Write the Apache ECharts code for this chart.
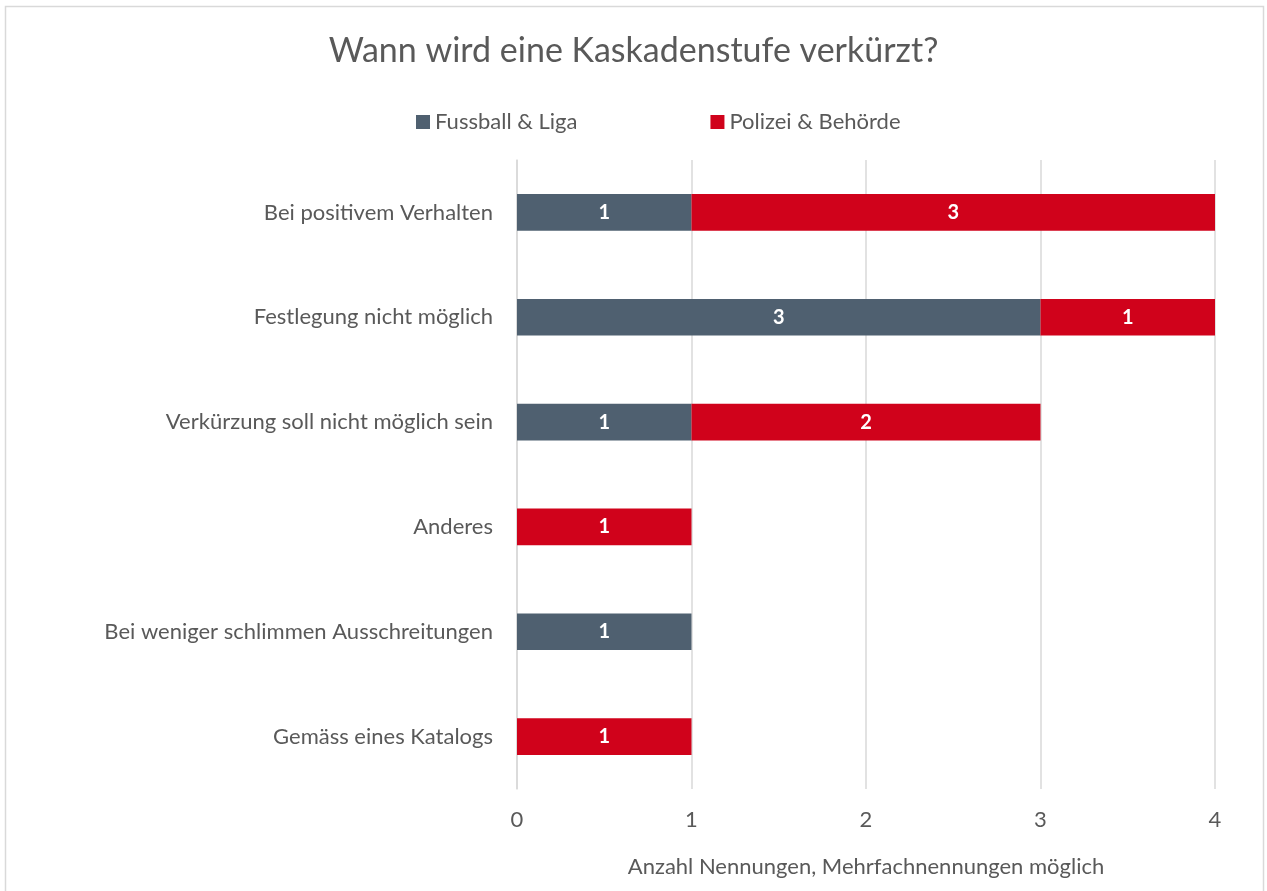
<!DOCTYPE html>
<html lang="de">
<head>
    <meta charset="UTF-8">
    <title>Kaskadenstufe</title>
</head>
<body style="margin:0">
<div id='main' style="height: 891px;width: 1267px"></div>
</body>
<script src="https://cdn.jsdelivr.net/npm/echarts@6/dist/echarts.min.js"></script>
<script>
    // Kategorien von oben nach unten
    var categories = ['Bei positivem Verhalten', 'Festlegung nicht möglich', 'Verkürzung soll nicht möglich sein',
        'Anderes', 'Bei weniger schlimmen Ausschreitungen', 'Gemäss eines Katalogs'];
    var fussball = [1, 3, 1, null, 1, null];
    var polizei = [3, 1, 2, 1, null, 1];
    var xTicks = [0, 1, 2, 3, 4];

    var font = 'Lato';
    var myChart = echarts.init(document.getElementById('main'));

    var barLabel = {
        show: true,
        position: 'inside',
        color: '#fff',
        fontWeight: 'bold',
        fontSize: 20,
        fontFamily: font
    };

    var option = {
        backgroundColor: '#fff',
        textStyle: {fontFamily: font},
        graphic: [{
            type: 'rect',
            shape: {x: 5.5, y: 6.5, width: 1258, height: 900},
            style: {fill: 'none', stroke: '#d9d9d9', lineWidth: 1.5},
            silent: true
        }],
        title: {
            text: 'Wann wird eine Kaskadenstufe verkürzt?',
            left: 'center',
            top: 29,
            textStyle: {fontSize: 34, fontWeight: 'normal', color: '#595959', fontFamily: font}
        },
        legend: {
            top: 106,
            left: 411,
            itemWidth: 14,
            itemHeight: 14,
            itemGap: 133,
            icon: 'rect',
            textStyle: {fontSize: 22, color: '#595959', fontFamily: font}
        },
        grid: {left: 517, right: 52, top: 160, bottom: 102},
        xAxis: {
            type: 'value',
            min: xTicks[0],
            max: xTicks[xTicks.length - 1],
            interval: 1,
            axisLine: {show: false},
            axisTick: {show: false},
            splitLine: {lineStyle: {color: '#d9d9d9', width: 1.5}},
            axisLabel: {fontSize: 22, color: '#595959', margin: 20, fontFamily: font},
            name: 'Anzahl Nennungen, Mehrfachnennungen möglich',
            nameLocation: 'middle',
            nameGap: 67,
            nameTextStyle: {fontSize: 22, color: '#595959', fontFamily: font}
        },
        yAxis: {
            type: 'category',
            inverse: true,
            data: categories,
            axisLine: {lineStyle: {color: '#d9d9d9', width: 1.5}},
            axisTick: {show: false},
            axisLabel: {fontSize: 22, color: '#595959', margin: 24, fontFamily: font}
        },
        series: [{
            name: 'Fussball & Liga',
            type: 'bar',
            stack: 'total',
            data: fussball,
            barWidth: '35%',
            itemStyle: {color: '#4f6070'},
            label: barLabel
        }, {
            name: 'Polizei & Behörde',
            type: 'bar',
            stack: 'total',
            data: polizei,
            barWidth: '35%',
            itemStyle: {color: '#d0021b'},
            label: barLabel
        }]
    };
    myChart.setOption(option);
</script>
</html>
